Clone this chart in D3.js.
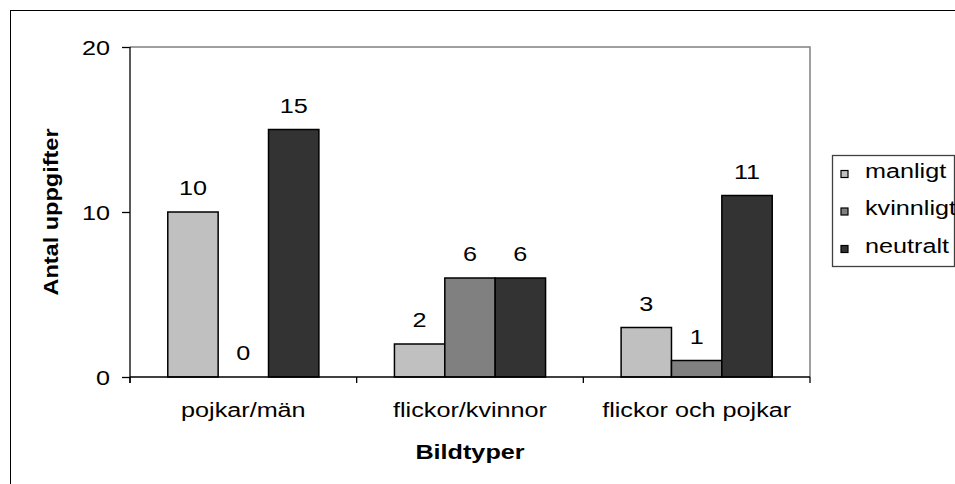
<!DOCTYPE html>
<html>
<head>
<meta charset="utf-8">
<script src="https://cdn.jsdelivr.net/npm/d3@7"></script>
<style>
  html, body { margin: 0; padding: 0; background: #fff; }
  svg { display: block; }
  text { font-family: Arial, "Liberation Sans", sans-serif; fill: #000; }
</style>
</head>
<body>
<svg id="chart" width="955" height="484"></svg>
<script>
// ---- data ----
const categories = ["pojkar/män", "flickor/kvinnor", "flickor och pojkar"];
const seriesNames = ["manligt", "kvinnligt", "neutralt"];
const manligt = [10, 2, 3];
const kvinnligt = [0, 6, 1];
const neutralt = [15, 6, 11];
const yTicks = [0, 10, 20];
const seriesColors = ["#C0C0C0", "#808080", "#333333"];
const xTitle = "Bildtyper";
const yTitle = "Antal uppgifter";

const seriesValues = [manligt, kvinnligt, neutralt];

const svg = d3.select("#chart");
const SX = 1.2; // horizontal stretch of the original text rendering
const FS = 21;

const plot = { left: 130, right: 810, top: 47, bottom: 377 };

// outer frame
svg.append("rect").attr("x", 10.5).attr("y", 10.5).attr("width", 960).attr("height", 500)
  .attr("fill", "none").attr("stroke", "#000").attr("stroke-width", 1);

const x0 = d3.scaleBand().domain(categories).range([plot.left, plot.right]).padding(0);
const barW = x0.bandwidth() / 4.5;
const x1 = d3.scaleBand().domain(seriesNames)
  .range([(x0.bandwidth() - 3 * barW) / 2, (x0.bandwidth() + 3 * barW) / 2]).padding(0);
const y = d3.scaleLinear().domain([0, 20]).range([plot.bottom, plot.top]);

function stext(g, str, x, yy, anchor, opts = {}) {
  const t = g.append("text")
    .attr("transform", opts.rotate ? `translate(${x},${yy}) rotate(-90) scale(${opts.sx || SX},1)`
                                   : `translate(${x},${yy}) scale(${opts.sx || SX},1)`)
    .attr("text-anchor", anchor)
    .style("font-size", (opts.size || FS) + "px")
    .text(str);
  if (opts.bold) t.style("font-weight", "bold");
  return t;
}

// plot area border (top/right gray)
svg.append("path")
  .attr("d", `M${plot.left},${plot.top}H${plot.right}V${plot.bottom}`)
  .attr("fill", "none").attr("stroke", "#808080").attr("stroke-width", 1.5);

// bars
const data = [];
categories.forEach((c, ci) => seriesNames.forEach((s, si) => data.push({ c, s, si, v: seriesValues[si][ci] })));

svg.append("g").selectAll("rect").data(data).join("rect")
  .attr("x", d => x0(d.c) + x1(d.s))
  .attr("y", d => y(d.v))
  .attr("width", x1.bandwidth())
  .attr("height", d => y(0) - y(d.v))
  .attr("fill", d => seriesColors[d.si])
  .attr("stroke", "#000").attr("stroke-width", 1.5);

// data labels
const lab = svg.append("g");
data.forEach(d => stext(lab, String(d.v), x0(d.c) + x1(d.s) + x1.bandwidth() / 2, y(d.v) - 17, "middle"));

// y axis
const yAxis = d3.axisLeft(y).tickValues(yTicks).tickSize(8).tickFormat("");
const yg = svg.append("g").attr("transform", `translate(${plot.left},0)`).call(yAxis);
yg.select(".domain").attr("stroke", "#000").attr("stroke-width", 1.3).attr("d", `M0,${plot.top}V${plot.bottom + 6}`);
yg.selectAll(".tick line").attr("stroke", "#000").attr("stroke-width", 1.3);
yTicks.forEach(t => stext(svg, String(t), 110, y(t) + 8, "end"));

// x axis
const xAxis = d3.axisBottom(x0).tickSize(0).tickFormat("");
const xg = svg.append("g").attr("transform", `translate(0,${plot.bottom})`).call(xAxis);
xg.select(".domain").attr("stroke", "#000").attr("stroke-width", 1.3).attr("d", `M${plot.left},0H${plot.right}`);
const bounds = categories.map(c => x0(c)).concat([plot.right]);
xg.selectAll(".bound").data(bounds).join("line").attr("class", "bound")
  .attr("x1", d => d).attr("x2", d => d).attr("y1", 0).attr("y2", 6)
  .attr("stroke", "#000").attr("stroke-width", 1.3);
categories.forEach(c => stext(svg, c, x0(c) + x0.bandwidth() / 2, 417, "middle"));

// axis titles
stext(svg, xTitle, (plot.left + plot.right) / 2, 459, "middle", { bold: true });
stext(svg, yTitle, 58, (plot.top + plot.bottom) / 2, "middle", { bold: true, rotate: true, sx: 1.12 });

// legend
const lg = svg.append("g");
lg.append("rect").attr("x", 832.5).attr("y", 155.5).attr("width", 122).attr("height", 111)
  .attr("fill", "#fff").attr("stroke", "#404040").attr("stroke-width", 1.3);
seriesNames.forEach((s, i) => {
  const ry = 177.5 + i * 37.5;
  lg.append("rect").attr("x", 841).attr("y", ry - 7).attr("width", 7).attr("height", 7)
    .attr("fill", seriesColors[i]).attr("stroke", "#000").attr("stroke-width", 1.2);
  stext(lg, s, 865, ry, "start");
});
</script>
</body>
</html>
